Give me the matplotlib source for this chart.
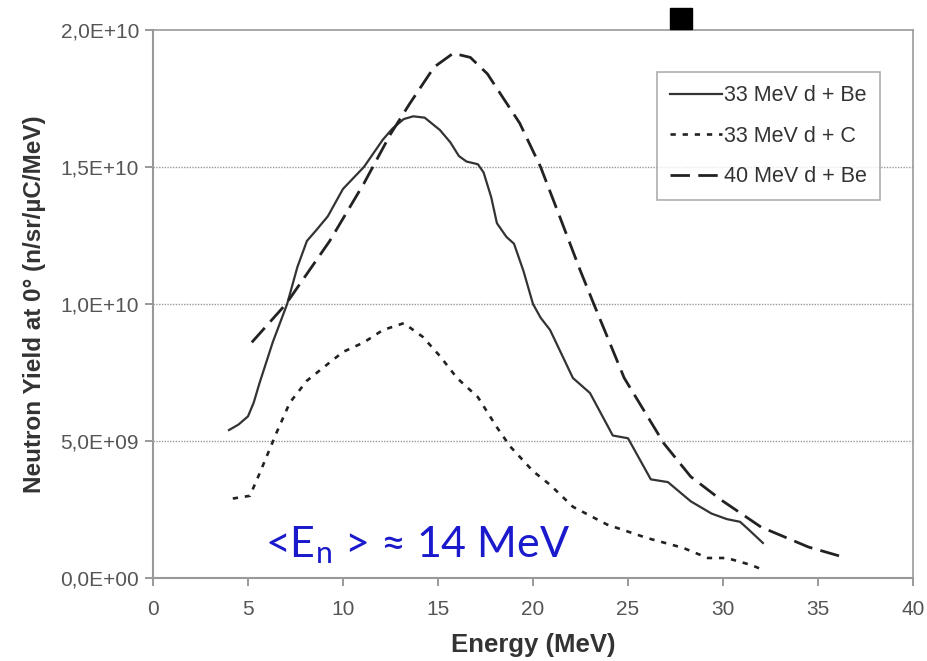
import matplotlib
matplotlib.use("Agg")
import matplotlib.pyplot as plt
from matplotlib.patches import Rectangle
from matplotlib.ticker import FuncFormatter

plt.rcParams['font.family'] = ['Liberation Sans', 'DejaVu Sans']
plt.rcParams['mathtext.fontset'] = 'custom'
plt.rcParams['mathtext.rm'] = 'Lato'

# 33 MeV d + Be (solid)
be33_x = [4.0, 4.5, 5.0, 5.3, 5.6, 6.3, 7.06, 7.6, 8.1, 8.6, 9.2, 10.0, 11.1, 12.1, 12.6,
          13.2, 13.7, 14.3, 15.1, 15.65, 16.1, 16.5, 17.1, 17.4, 17.8, 18.1, 18.6, 19.0,
          19.5, 20.0, 20.4, 20.9, 22.1, 23.0, 24.2, 25.0, 26.2, 27.1, 28.3, 29.4, 30.2,
          30.9, 31.3, 32.1]
be33_y = [5.4, 5.6, 5.9, 6.4, 7.1, 8.6, 10.0, 11.35, 12.3, 12.7, 13.2, 14.2, 15.0, 16.0, 16.4,
          16.75, 16.85, 16.8, 16.35, 15.9, 15.4, 15.2, 15.1, 14.8, 13.9, 12.95, 12.45, 12.2,
          11.2, 10.0, 9.5, 9.05, 7.3, 6.75, 5.2, 5.1, 3.6, 3.5, 2.8, 2.35, 2.15,
          2.05, 1.8, 1.28]

# 33 MeV d + C (dotted)
c33_x = [4.2, 5.1, 5.6, 6.5, 7.2, 8.1, 9.0, 10.0, 11.1, 12.1, 13.2, 14.2, 15.1, 16.0,
         17.1, 18.1, 18.8, 20.0, 20.9, 22.1, 23.9, 26.0, 27.9, 29.2, 30.2, 31.5, 32.1]
c33_y = [2.9, 3.0, 3.8, 5.3, 6.4, 7.2, 7.7, 8.25, 8.6, 9.05, 9.3, 8.8, 8.1, 7.3,
         6.6, 5.5, 4.8, 3.9, 3.4, 2.6, 1.95, 1.46, 1.1, 0.73, 0.73, 0.47, 0.3]

# 40 MeV d + Be (dashed)
be40_x = [5.2, 7.0, 9.3, 11.1, 12.5, 13.5, 14.8, 15.8, 16.7, 17.6, 18.4, 19.3, 20.4,
          21.4, 22.5, 23.2, 24.8, 26.9, 28.3, 29.9, 32.0, 34.5, 36.3]
be40_y = [8.6, 10.0, 12.3, 14.4, 16.2, 17.3, 18.65, 19.15, 19.0, 18.4, 17.55, 16.6, 15.0,
          13.2, 11.2, 10.0, 7.3, 4.9, 3.7, 2.85, 1.86, 1.13, 0.77]

labels = ["33 MeV d + Be", "33 MeV d + C", "40 MeV d + Be"]
scale = 1e9

fig = plt.figure(figsize=(9.28, 6.61), dpi=100)
ax = fig.add_axes([153 / 928, 1 - 578 / 661, (913 - 153) / 928, (578 - 30) / 661])

ax.plot(be33_x, [v * scale for v in be33_y], color='#333333', lw=1.6,
        solid_joinstyle='round', label=labels[0])
ax.plot(c33_x, [v * scale for v in c33_y], color='#222222', lw=1.9,
        linestyle=(0, (2, 2.6)), label=labels[1])
ax.plot(be40_x, [v * scale for v in be40_y], color='#222222', lw=2.0,
        linestyle=(0, (7, 3)), label=labels[2])

ax.set_xlim(0, 40)
ax.set_ylim(0, 2e10)
ax.set_xticks(range(0, 41, 5))
ax.set_yticks([0, 5e9, 1e10, 1.5e10, 2e10])


def sci_comma(v, pos):
    s = "%.1E" % v
    return s.replace(".", ",")


ax.yaxis.set_major_formatter(FuncFormatter(sci_comma))
ax.tick_params(axis='both', colors='#888888', labelcolor='#555555', labelsize=15,
               direction='out', length=6, width=1.2)
ax.tick_params(axis='x', pad=10)
ax.tick_params(axis='y', pad=4)

for name, sp in ax.spines.items():
    sp.set_color('#999999')
    sp.set_linewidth(1.5 if name in ('left', 'bottom') else 1.2)

for yv in [5e9, 1e10, 1.5e10]:
    ax.axhline(yv, color='#999999', lw=1.0, linestyle=(0, (1, 1)), zorder=0)

ax.set_xlabel("Energy (MeV)", fontsize=18.5, fontweight='bold', color='#333333', labelpad=10)
ax.set_ylabel("Neutron Yield at 0° (n/sr/µC/MeV)", fontsize=17.5, fontweight='bold',
              color='#333333', labelpad=10)

leg = ax.legend(loc='upper right', fontsize=15.5, frameon=True, fancybox=False,
                handlelength=2.4, handletextpad=0.1, labelspacing=0.9,
                borderpad=0.62, borderaxespad=0,
                bbox_to_anchor=((880 - 153) / 760, (578 - 72) / 548))
leg.get_frame().set_edgecolor('#999999')
leg.get_frame().set_linewidth(1.2)
for t in leg.get_texts():
    t.set_color('#333333')

fig.text(265 / 928, 1 - 545 / 661, r"<E$_\mathrm{n}$ > ≈ 14 MeV",
         fontsize=31, color='#1a1acc', family=['Lato', 'DejaVu Sans'],
         va='center', ha='left')

fig.patches.append(Rectangle((670 / 928, 1 - 29 / 661), 22 / 928, 21 / 661,
                             transform=fig.transFigure, color='black', zorder=10))

fig.savefig("out.png", dpi=100)
